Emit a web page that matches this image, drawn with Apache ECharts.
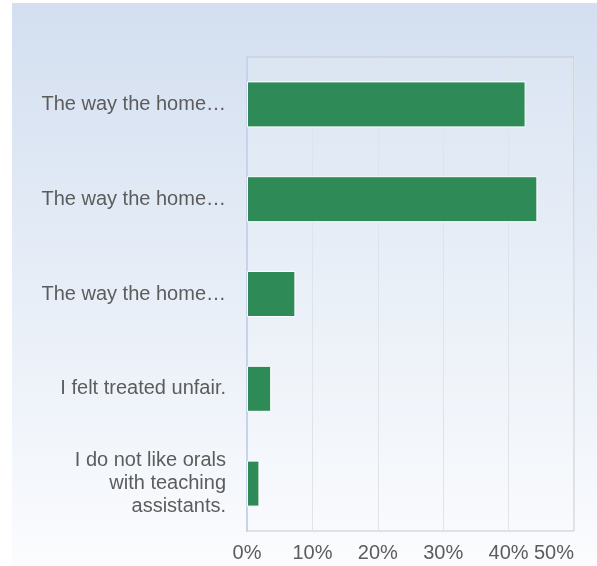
<!DOCTYPE html>
<html>
<head>
<meta charset="utf-8">
<script src="https://cdn.jsdelivr.net/npm/echarts@6/dist/echarts.min.js"></script>
<style>
  html, body { margin: 0; padding: 0; background: #ffffff; }
  #chart { width: 597px; height: 566px; }
</style>
</head>
<body>
<div id="chart"></div>
<script>
// Answer options, top to bottom
var categories = [
  'The way the home\u2026',
  'The way the home\u2026',
  'The way the home\u2026',
  'I felt treated unfair.',
  'I do not like orals\nwith teaching\nassistants.'
];
// Share of respondents per answer (%)
var shares = [42.6, 44.4, 7.4, 3.7, 1.9];
// Horizontal axis ticks (%)
var tickMin = 0;
var tickMax = 50;
var tickStep = 10;

var chart = echarts.init(document.getElementById('chart'), null, { renderer: 'canvas' });

chart.setOption({
  backgroundColor: '#ffffff',
  animation: false,
  graphic: [{
    type: 'rect',
    z: -10,
    silent: true,
    shape: { x: 12, y: 3, width: 585, height: 563 },
    style: {
      fill: new echarts.graphic.LinearGradient(0, 0, 0, 1, [
        { offset: 0, color: '#d3dff0' },
        { offset: 1, color: '#fbfcfe' }
      ])
    }
  }],
  grid: {
    left: 247,
    right: 23,
    top: 57,
    bottom: 35,
    show: true,
    backgroundColor: 'rgba(255,255,255,0.12)',
    borderColor: '#c9c9c9',
    borderWidth: 1
  },
  xAxis: {
    type: 'value',
    min: tickMin,
    max: tickMax,
    interval: tickStep,
    axisLine: { show: false },
    axisTick: { show: false },
    splitLine: { show: true, lineStyle: { color: '#dfe3ea', width: 1 } },
    axisLabel: {
      formatter: '{value}%',
      color: '#5c5c5c',
      fontFamily: 'Liberation Sans, Arial, sans-serif',
      fontSize: 20,
      margin: 12,
      alignMaxLabel: 'right'
    }
  },
  yAxis: {
    type: 'category',
    data: categories,
    inverse: true,
    axisLine: { show: true, lineStyle: { color: '#c6d3ea', width: 2 } },
    axisTick: { show: false },
    splitLine: { show: false },
    axisLabel: {
      color: '#5c5c5c',
      fontFamily: 'Liberation Sans, Arial, sans-serif',
      fontSize: 20,
      lineHeight: 23,
      margin: 21,
      align: 'right'
    }
  },
  series: [{
    type: 'bar',
    data: shares,
    barWidth: 46,
    itemStyle: {
      color: '#2e8a57',
      borderColor: '#ffffff',
      borderWidth: 1
    }
  }]
});
</script>
</body>
</html>
